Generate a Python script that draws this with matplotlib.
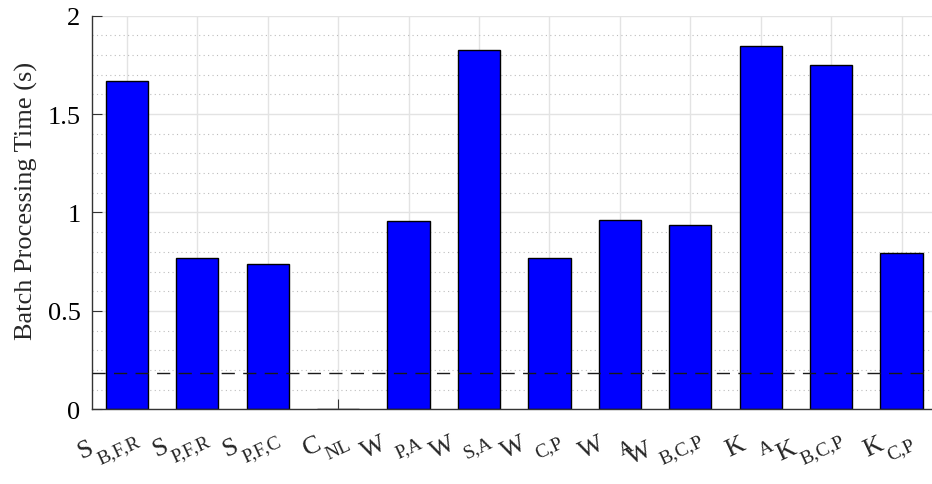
import matplotlib
matplotlib.use("Agg")
import matplotlib.pyplot as plt
import matplotlib.transforms as mtransforms
import numpy as np

# data
MAIN = ["S", "S", "S", "C", "W", "W", "W", "W", "W", "K", "K", "K"]
SUBS = ["B,F,R", "P,F,R", "P,F,C", "NL", "P,A", "S,A", "C,P", "A", "B,C,P", "A", "B,C,P", "C,P"]
TIMES = [1.670, 0.769, 0.738, 0.003, 0.958, 1.827, 0.767, 0.962, 0.936, 1.846, 1.748, 0.793]
THRESHOLD = 0.183

# gap (px) between main letter and its subscript, per label
SUB_GAP = [0, 0, 0, 1, 5, 5, 5, 11, 4, 11, 0, 0]

plt.rcParams["font.family"] = ["Liberation Serif", "DejaVu Serif"]

fig = plt.figure(figsize=(9.32, 4.85), dpi=100)
ax = fig.add_axes([0.0984, 0.154, 0.9067, 0.8116])

x = np.arange(1, len(TIMES) + 1)
ax.bar(x, TIMES, width=0.6, color="#0000ff", edgecolor="black", linewidth=1.0, zorder=2)
ax.axhline(THRESHOLD, color="#1a1a1a", linewidth=1.0, dashes=(9.5, 6), zorder=3)

ax.set_xlim(0.5, 12.5)
ax.set_ylim(0, 2)
ax.set_yticks([0, 0.5, 1, 1.5, 2])
ax.set_yticklabels(["0", "0.5", "1", "1.5", "2"])
ax.set_yticks(np.arange(0, 2.0001, 0.1), minor=True)
ax.set_xticks(x)
ax.set_xticklabels([])

ax.set_axisbelow(True)
ax.grid(True, which="major", color="#e3e3e3", linewidth=1.0)
ax.grid(True, which="minor", axis="y", color="#bdbdbd", linewidth=0.8, linestyle=(0, (1, 3)))
ax.tick_params(which="major", direction="in", length=7, width=0.8, labelsize=19, color="#333333")
ax.tick_params(which="minor", length=0)
ax.tick_params(axis="y", pad=8)

for side in ("top", "right"):
    ax.spines[side].set_visible(False)
for side in ("left", "bottom"):
    ax.spines[side].set_color("#333333")
    ax.spines[side].set_linewidth(1.0)

fig.text(26 / 932, 1 - 201 / 485, "Batch Processing Time (s)", rotation=90,
         ha="center", va="center", fontsize=19, color="#262626")

# rotated category labels (letter + lowered subscript), laid out in pixel space
ROT = 25
DROP = 13
renderer = fig.canvas.get_renderer()
ident = mtransforms.IdentityTransform()
u = np.array([np.cos(np.radians(ROT)), np.sin(np.radians(ROT))])
n = np.array([np.sin(np.radians(ROT)), -np.cos(np.radians(ROT))])
for xi, main, sub, gap in zip(x, MAIN, SUBS, SUB_GAP):
    probe = fig.text(0, 0, main, fontsize=19, transform=ident)
    w_main = probe.get_window_extent(renderer).width
    probe.remove()

    tick_px, base_px = ax.transData.transform((xi, 0))
    p_main = np.array([0.0, 0.0])
    p_sub = u * (w_main + gap) + n * DROP
    t_main = fig.text(*p_main, main, fontsize=19, rotation=ROT, rotation_mode="anchor",
                      ha="left", va="baseline", transform=ident, color="#262626")
    t_sub = fig.text(*p_sub, sub, fontsize=14, rotation=ROT, rotation_mode="anchor",
                     ha="left", va="baseline", transform=ident, color="#262626")
    bb = mtransforms.Bbox.union([t_main.get_window_extent(renderer),
                                 t_sub.get_window_extent(renderer)])
    shift = np.array([(tick_px + 16) - bb.x1, (base_px - 23) - bb.y1])
    t_main.set_position(tuple(p_main + shift))
    t_sub.set_position(tuple(p_sub + shift))

fig.savefig("out.png", dpi=100)
